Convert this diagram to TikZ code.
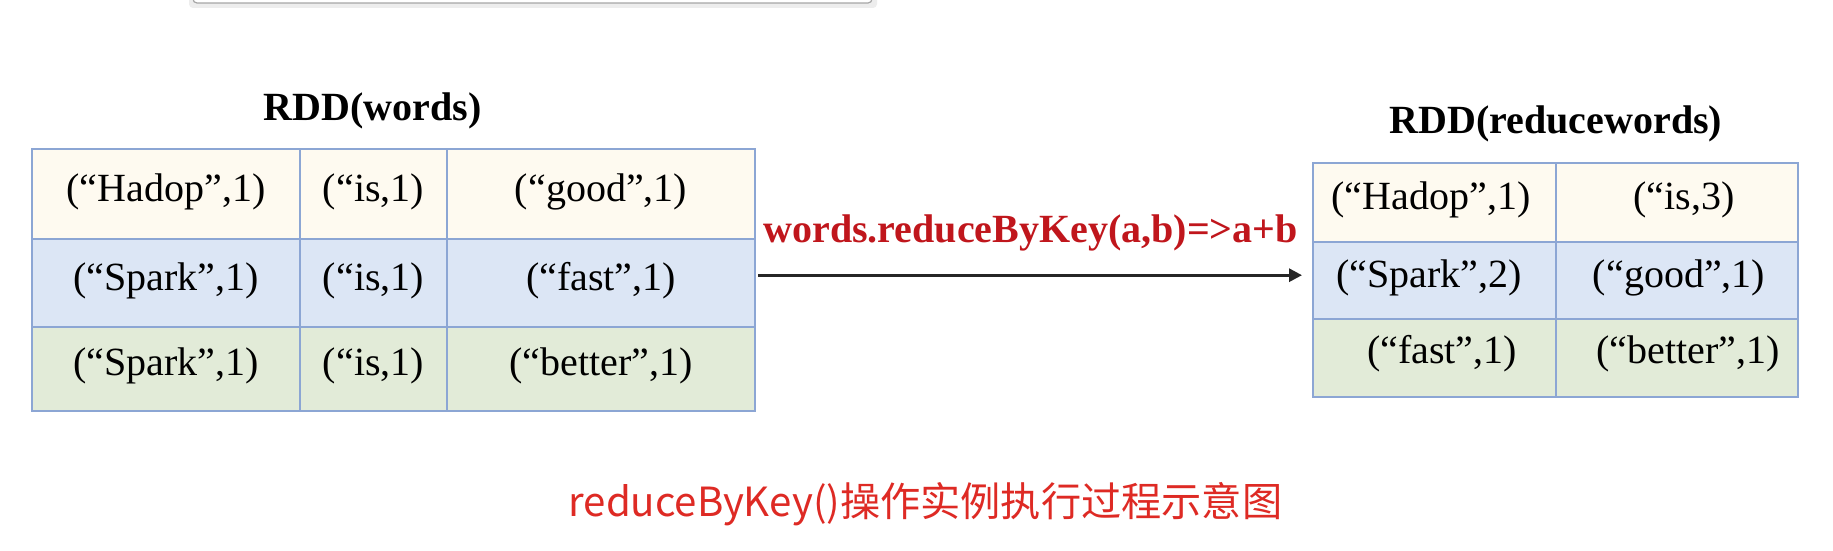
\documentclass[tikz,border=0pt]{standalone}
\usepackage{fontspec}
\setmainfont{Liberation Serif}
\newfontfamily\cjk{Noto Sans CJK SC}
\usetikzlibrary{arrows.meta}
\definecolor{rowA}{RGB}{254,250,240}
\definecolor{rowB}{RGB}{220,230,245}
\definecolor{rowC}{RGB}{226,235,216}
\definecolor{gridc}{RGB}{140,166,212}
\definecolor{lblred}{RGB}{192,22,28}
\definecolor{capred}{RGB}{222,42,36}
\begin{document}
\begin{tikzpicture}[x=1pt,y=-1pt,
  cell/.style={font=\fontsize{40}{48}\selectfont, anchor=base, inner sep=0pt},
  title/.style={font=\fontsize{40}{48}\selectfont\bfseries, anchor=base, inner sep=0pt},
  grid/.style={draw=gridc, line width=1.5pt},
  tablebox/.style={inner sep=0pt, anchor=north west},
  flow/.style={line width=3pt, draw=black!85, -{Triangle[length=13pt,width=13pt]}},
  ]
\useasboundingbox (0,0) rectangle (1833,551);
\fill[white] (0,0) rectangle (1833,551);
% partial box at top edge
\fill[black!7, rounded corners=4pt] (189,-10) rectangle (877,8);
\filldraw[fill=white, draw=black!35, line width=1.2pt, rounded corners=4pt] (193,-10) rectangle (872,3);

% left table
\node[tablebox, minimum width=723pt, minimum height=262pt] (lt) at (32,149) {};
\fill[rowA] (32,149) rectangle (755,239);
\fill[rowB] (32,239) rectangle (755,327);
\fill[rowC] (32,327) rectangle (755,411);
\draw[grid] (32,149) rectangle (755,411);
\draw[grid] (32,239) -- (755,239) (32,327) -- (755,327)
            (300,149) -- (300,411) (447,149) -- (447,411);
\node[title] (tl) at (372.5,120) {RDD(words)};
\node[cell] (l11) at (166,201) {(“Hadop”,1)};
\node[cell] (l12) at (373.5,201) {(“is,1)};
\node[cell] (l13) at (601,201) {(“good”,1)};
\node[cell] (l21) at (166,290) {(“Spark”,1)};
\node[cell] (l22) at (373.5,290) {(“is,1)};
\node[cell] (l23) at (601,290) {(“fast”,1)};
\node[cell] (l31) at (166,375) {(“Spark”,1)};
\node[cell] (l32) at (373.5,375) {(“is,1)};
\node[cell] (l33) at (601,375) {(“better”,1)};

% right table
\node[tablebox, minimum width=485pt, minimum height=234pt] (rt) at (1313,163) {};
\fill[rowA] (1313,163) rectangle (1798,242);
\fill[rowB] (1313,242) rectangle (1798,319);
\fill[rowC] (1313,319) rectangle (1798,397);
\draw[grid] (1313,163) rectangle (1798,397);
\draw[grid] (1313,242) -- (1798,242) (1313,319) -- (1798,319)
            (1556,163) -- (1556,397);
\node[title] (tr) at (1556,133) {RDD(reducewords)};
\node[cell] (r11) at (1431,209) {(“Hadop”,1)};
\node[cell] (r12) at (1684,209) {(“is,3)};
\node[cell] (r21) at (1429,287) {(“Spark”,2)};
\node[cell] (r22) at (1679,287) {(“good”,1)};
\node[cell] (r31) at (1442,363) {(“fast”,1)};
\node[cell] (r32) at (1688,363) {(“better”,1)};

% arrow and label
\draw[flow] ([xshift=3pt,yshift=5pt]lt.east) -- ([xshift=-11pt,yshift=5pt]rt.west);
\node[title, text=lblred] (lbl) at (1030.5,242) {words.reduceByKey(a,b)=>a+b};

% caption
\node[font=\cjk\fontsize{40.2}{48}\selectfont, text=capred, anchor=base, inner sep=0pt] (cap) at (925.5,516) {reduceByKey()操作实例执行过程示意图};
\end{tikzpicture}
\end{document}
